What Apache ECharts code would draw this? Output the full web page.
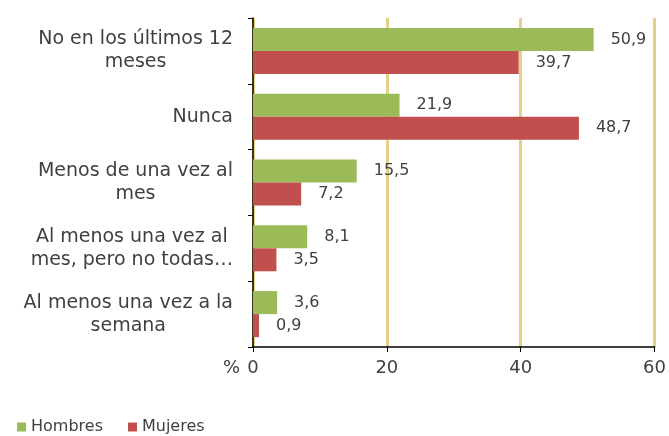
<!DOCTYPE html>
<html>
<head>
    <meta charset="utf-8">
    <title>Frecuencia</title>
    <script src="https://cdn.jsdelivr.net/npm/echarts@6/dist/echarts.min.js"></script>
    <style>
        body { margin: 0; background: #fff; }
        #main { width: 669px; height: 436px; }
    </style>
</head>
<body>
    <div id="main"></div>
    <script type="text/javascript">
        // datos del gráfico
        var categorias = [
            'No en los últimos 12\nmeses',
            'Nunca',
            'Menos de una vez al\nmes',
            'Al menos una vez al\nmes, pero no todas…',
            'Al menos una vez a la\nsemana'
        ];
        var hombres = [50.9, 21.9, 15.5, 8.1, 3.6];
        var mujeres = [39.7, 48.7, 7.2, 3.5, 0.9];
        var ticksX = [0, 20, 40, 60];

        var fuente = 'DejaVu Sans';
        var gris = '#404040';

        var myChart = echarts.init(document.getElementById('main'));

        function coma(v) {
            return String(v).replace('.', ',');
        }

        var etiqueta = {
            show: true,
            position: 'right',
            distance: 17,
            fontFamily: fuente,
            fontSize: 16,
            color: gris,
            formatter: function (p) { return coma(p.value); }
        };

        var option = {
            animation: false,
            backgroundColor: '#fff',
            grid: { left: 253, right: 14, top: 18, bottom: 89 },
            legend: {
                data: ['Hombres', 'Mujeres'],
                left: 12,
                top: 414,
                icon: 'rect',
                itemWidth: 9,
                itemHeight: 9,
                itemGap: 25,
                textStyle: { fontFamily: fuente, fontSize: 16, color: gris }
            },
            xAxis: {
                type: 'value',
                min: ticksX[0],
                max: ticksX[ticksX.length - 1],
                interval: 20,
                name: '%',
                nameLocation: 'start',
                nameGap: 13,
                nameTextStyle: { fontFamily: fuente, fontSize: 18, color: gris, verticalAlign: 'top', padding: [12, 0, 0, 0] },
                axisLine: { show: true, lineStyle: { color: '#000', width: 1.5 } },
                axisTick: { show: true, length: 5, lineStyle: { color: '#000' } },
                axisLabel: { margin: 12, fontFamily: fuente, fontSize: 18, color: gris },
                splitLine: { show: true, lineStyle: { color: '#e5d086', width: 3 } }
            },
            yAxis: {
                type: 'category',
                inverse: true,
                data: categorias,
                axisLine: { show: true, lineStyle: { color: '#000', width: 1.5 } },
                axisTick: { show: true, length: 5, lineStyle: { color: '#000' } },
                axisLabel: {
                    margin: 20,
                    formatter: function (v) {
                        return v.split('\n').map(function (l) { return '{c|' + l + '}'; }).join('\n');
                    },
                    rich: {
                        c: { align: 'center', fontFamily: fuente, fontSize: 19, lineHeight: 23, color: gris }
                    }
                }
            },
            series: [
                {
                    name: 'Hombres',
                    type: 'bar',
                    data: hombres,
                    barWidth: 23,
                    barGap: '0%',
                    itemStyle: { color: '#9bbb59' },
                    label: etiqueta
                },
                {
                    name: 'Mujeres',
                    type: 'bar',
                    data: mujeres,
                    barWidth: 23,
                    barGap: '0%',
                    itemStyle: { color: '#c0504d' },
                    label: etiqueta
                }
            ]
        };

        myChart.setOption(option);
    </script>
</body>
</html>
